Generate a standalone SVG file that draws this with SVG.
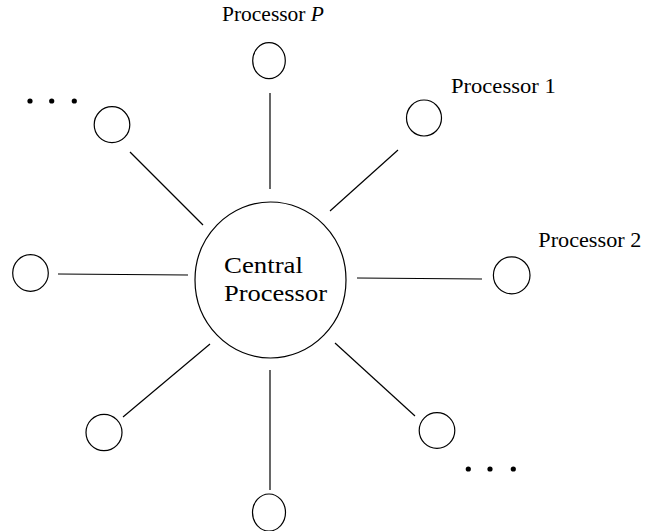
<svg xmlns="http://www.w3.org/2000/svg" width="645" height="531" viewBox="0 0 645 531">
<style>
.n{fill:none;stroke:#000;stroke-width:1.2}
.c line{stroke:#000;stroke-width:1.2}
.t{font-family:"Liberation Serif","DejaVu Serif",serif;fill:#000}
.lbl{font-size:20.5px}
.ctr{font-size:22.5px}
.dot{fill:#000}
</style>
<rect width="645" height="531" fill="#fff"/>
<g id="connectors" class="c">
<line x1="270" y1="93" x2="270" y2="189"/>
<line x1="330" y1="211" x2="398" y2="150"/>
<line x1="357" y1="278" x2="482" y2="279"/>
<line x1="335" y1="343" x2="415" y2="416"/>
<line x1="270" y1="370" x2="270" y2="490"/>
<line x1="210" y1="344" x2="123" y2="417"/>
<line x1="188" y1="275" x2="58" y2="274"/>
<line x1="203" y1="225" x2="130" y2="152"/>
</g>
<g id="central">
<ellipse class="n" cx="270.5" cy="280" rx="75.5" ry="78"/>
<text class="t ctr" x="224" y="273" textLength="79" lengthAdjust="spacingAndGlyphs">Central</text>
<text class="t ctr" x="224" y="301" textLength="103" lengthAdjust="spacingAndGlyphs">Processor</text>
</g>
<g id="procP">
<ellipse class="n" cx="269" cy="60.7" rx="16.3" ry="18"/>
<text class="t lbl" x="222" y="20.7" textLength="102" lengthAdjust="spacingAndGlyphs">Processor <tspan font-style="italic">P</tspan></text>
</g>
<g id="proc1">
<ellipse class="n" cx="424" cy="118" rx="17.5" ry="18"/>
<text class="t lbl" x="451" y="92.7" textLength="104.7" lengthAdjust="spacingAndGlyphs">Processor 1</text>
</g>
<g id="proc2">
<ellipse class="n" cx="511.7" cy="275.3" rx="18.3" ry="18.5"/>
<text class="t lbl" x="538.3" y="247.3" textLength="103" lengthAdjust="spacingAndGlyphs">Processor 2</text>
</g>
<g id="procBR">
<ellipse class="n" cx="437" cy="430.5" rx="17.8" ry="17.8"/>
</g>
<g id="procB">
<ellipse class="n" cx="269" cy="512.5" rx="16.5" ry="18.5"/>
</g>
<g id="procBL">
<ellipse class="n" cx="104" cy="432.5" rx="18" ry="18.2"/>
</g>
<g id="procL">
<ellipse class="n" cx="30.5" cy="273" rx="17.8" ry="18.3"/>
</g>
<g id="procTL">
<ellipse class="n" cx="112" cy="124.7" rx="17.8" ry="18"/>
</g>
<g id="dotsTL">
<circle class="dot" cx="30" cy="101" r="2.6"/>
<circle class="dot" cx="51.7" cy="101" r="2.6"/>
<circle class="dot" cx="74.3" cy="101" r="2.6"/>
</g>
<g id="dotsBR">
<circle class="dot" cx="468.3" cy="469" r="2.6"/>
<circle class="dot" cx="490" cy="469" r="2.6"/>
<circle class="dot" cx="513.3" cy="469" r="2.6"/>
</g>
</svg>
